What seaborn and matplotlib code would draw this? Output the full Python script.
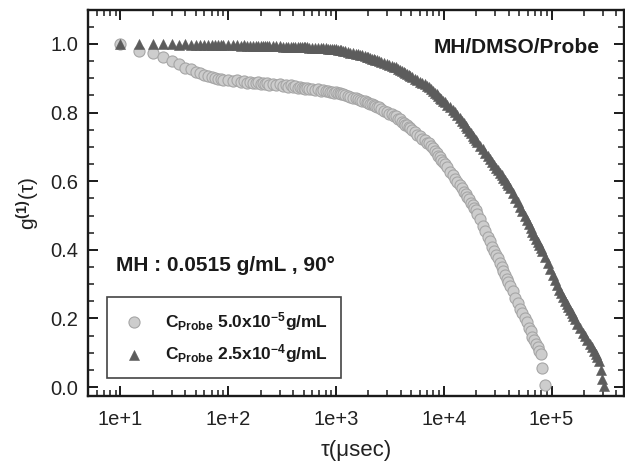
import numpy as np
import pandas as pd
import matplotlib
matplotlib.use("Agg")
import matplotlib.pyplot as plt
import matplotlib.ticker as mticker
import seaborn as sns

# ---------------- data ----------------
tau_us = [10, 15, 20, 25, 30, 35, 40, 45, 50, 55, 60, 65, 70, 75, 80, 85,
          90, 100, 110, 120, 130, 140, 150, 160, 170, 180, 190, 200, 210, 220, 230, 240,
          260, 280, 300, 320, 340, 360, 380, 400, 420, 440, 460, 480, 500, 520, 540, 560,
          600, 640, 680, 720, 760, 800, 840, 880, 920, 960, 1000, 1040, 1080, 1120, 1160, 1200,
          1280, 1360, 1440, 1520, 1600, 1680, 1760, 1840, 1920, 2000, 2080, 2160, 2240, 2320,
          2400, 2480,
          2640, 2800, 2960, 3120, 3280, 3440, 3600, 3760, 3920, 4080, 4240, 4400, 4560, 4720,
          4880, 5040,
          5360, 5680, 6000, 6320, 6640, 6960, 7280, 7600, 7920, 8240, 8560, 8880, 9200, 9520,
          9840, 10160,
          10800, 11440, 12080, 12720, 13360, 14000, 14640, 15280, 15920, 16560, 17200, 17840,
          18480, 19120, 19760, 20400,
          21680, 22960, 24240, 25520, 26800, 28080, 29360, 30640, 31920, 33200, 34480, 35760,
          37040, 38320, 39600, 40880,
          43440, 46000, 48560, 51120, 53680, 56240, 58800, 61360, 63920, 66480, 69040, 71600,
          74160, 76720, 79280, 81840,
          86960, 92080, 97200, 102320, 107440, 112560, 117680, 122800, 127920, 133040, 138160,
          143280, 148400, 153520, 158640, 163760,
          174000, 184240, 194480, 204720, 214960, 225200, 235440, 245680, 255920, 266160,
          276400, 286640, 296880, 307120]

g_low = [1.000, 0.980, 0.973, 0.962, 0.950, 0.941, 0.931, 0.926, 0.917, 0.915, 0.909, 0.907,
         0.903, 0.901, 0.899, 0.898,
         0.896, 0.894, 0.891, 0.894, 0.889, 0.891, 0.886, 0.889, 0.885, 0.887, 0.890, 0.884,
         0.886, 0.882, 0.885, 0.881,
         0.883, 0.879, 0.882, 0.877, 0.880, 0.876, 0.879, 0.874, 0.877, 0.872, 0.875, 0.871,
         0.873, 0.869, 0.872, 0.868,
         0.870, 0.866, 0.868, 0.864, 0.866, 0.862, 0.864, 0.860, 0.861, 0.858, 0.859, 0.856,
         0.856, 0.853, 0.853, 0.850,
         0.848, 0.846, 0.843, 0.842, 0.839, 0.838, 0.835, 0.833, 0.831, 0.829, 0.826, 0.824,
         0.822, 0.819, 0.817, 0.815,
         0.810, 0.805, 0.803, 0.797, 0.796, 0.790, 0.789, 0.782, 0.780, 0.774, 0.771, 0.765,
         0.763, 0.757, 0.755, 0.749,
         0.743, 0.735, 0.731, 0.723, 0.720, 0.712, 0.711, 0.702, 0.697, 0.688, 0.683, 0.674,
         0.670, 0.661, 0.657, 0.649,
         0.641, 0.628, 0.619, 0.607, 0.599, 0.588, 0.580, 0.569, 0.563, 0.553, 0.547, 0.537,
         0.532, 0.522, 0.515, 0.504,
         0.489, 0.469, 0.454, 0.437, 0.425, 0.409, 0.398, 0.384, 0.375, 0.361, 0.351, 0.338,
         0.328, 0.316, 0.307, 0.296,
         0.279, 0.260, 0.246, 0.228, 0.216, 0.200, 0.189, 0.173, 0.162, 0.147, 0.138, 0.125,
         0.118, 0.105, 0.095, 0.055,
         0.005]

g_high = [1.000, 1.000, 1.000, 0.999, 0.999, 0.998, 0.999, 0.998, 0.998, 0.998, 0.997, 0.998,
          0.997, 0.997, 0.997, 0.997,
          0.997, 0.996, 0.996, 0.996, 0.995, 0.996, 0.995, 0.995, 0.995, 0.995, 0.994, 0.994,
          0.994, 0.993, 0.994, 0.993,
          0.993, 0.993, 0.993, 0.992, 0.992, 0.992, 0.992, 0.991, 0.991, 0.991, 0.991, 0.990,
          0.990, 0.990, 0.990, 0.989,
          0.989, 0.989, 0.988, 0.988, 0.987, 0.987, 0.986, 0.986, 0.985, 0.985, 0.984, 0.983,
          0.982, 0.981, 0.980, 0.979,
          0.977, 0.975, 0.974, 0.972, 0.970, 0.969, 0.967, 0.965, 0.963, 0.961, 0.959, 0.957,
          0.955, 0.953, 0.952, 0.950,
          0.947, 0.944, 0.941, 0.938, 0.936, 0.934, 0.932, 0.928, 0.925, 0.922, 0.919, 0.916,
          0.913, 0.910, 0.907, 0.904,
          0.899, 0.895, 0.890, 0.886, 0.882, 0.878, 0.874, 0.869, 0.863, 0.858, 0.853, 0.848,
          0.843, 0.839, 0.835, 0.831,
          0.823, 0.816, 0.808, 0.802, 0.793, 0.785, 0.776, 0.769, 0.761, 0.754, 0.747, 0.740,
          0.733, 0.727, 0.721, 0.715,
          0.704, 0.693, 0.683, 0.673, 0.664, 0.656, 0.647, 0.639, 0.632, 0.624, 0.617, 0.610,
          0.603, 0.596, 0.588, 0.581,
          0.566, 0.552, 0.538, 0.524, 0.512, 0.500, 0.488, 0.476, 0.464, 0.453, 0.443, 0.433,
          0.423, 0.414, 0.405, 0.396,
          0.380, 0.362, 0.344, 0.328, 0.312, 0.297, 0.284, 0.273, 0.262, 0.252, 0.243, 0.233,
          0.224, 0.215, 0.207, 0.199,
          0.184, 0.172, 0.159, 0.148, 0.137, 0.126, 0.116, 0.106, 0.097, 0.088, 0.075, 0.050,
          0.025, 0.003]

label_low = r"C$_{\mathbf{Probe}}$ 5.0x10$^{\mathbf{-5}}$g/mL"
label_high = r"C$_{\mathbf{Probe}}$ 2.5x10$^{\mathbf{-4}}$g/mL"
x_tick_values = [1e1, 1e2, 1e3, 1e4, 1e5]
x_tick_labels = ["1e+1", "1e+2", "1e+3", "1e+4", "1e+5"]
y_tick_values = [0.0, 0.2, 0.4, 0.6, 0.8, 1.0]

# ---------------- style ----------------
sns.set_style("ticks")
plt.rcParams["font.family"] = ["Liberation Sans", "DejaVu Sans"]
plt.rcParams["mathtext.fontset"] = "custom"
plt.rcParams["mathtext.rm"] = "Liberation Sans"
plt.rcParams["mathtext.it"] = "Liberation Sans:italic"
plt.rcParams["mathtext.bf"] = "Liberation Sans:bold"

df_low = pd.DataFrame({"tau": tau_us[:len(g_low)], "g": g_low})
df_high = pd.DataFrame({"tau": tau_us[:len(g_high)], "g": g_high})

fig = plt.figure(figsize=(6.25, 4.72), dpi=100)
ax = fig.add_axes([88 / 625, 76 / 472, 536 / 625, 386 / 472])

sns.scatterplot(data=df_low, x="tau", y="g", ax=ax, marker="o", s=64,
                color="#cdcdcd", edgecolor="#a6a6a6", linewidth=0.8,
                label=label_low, zorder=2)
sns.scatterplot(data=df_high, x="tau", y="g", ax=ax, marker="^", s=52,
                color="#5c5c5c", edgecolor="#5c5c5c", linewidth=0.4,
                label=label_high, zorder=3)

ax.set_xscale("log")
ax.set_xlim(5.0, 4.7e5)
ax.set_ylim(-0.026, 1.099)

ax.xaxis.set_major_locator(mticker.FixedLocator(x_tick_values))
ax.xaxis.set_major_formatter(mticker.FixedFormatter(x_tick_labels))
ax.xaxis.set_minor_locator(mticker.LogLocator(base=10, subs=np.arange(2, 10)))
ax.xaxis.set_minor_formatter(mticker.NullFormatter())
ax.yaxis.set_major_locator(mticker.FixedLocator(y_tick_values))
ax.yaxis.set_major_formatter(mticker.FormatStrFormatter("%.1f"))
ax.yaxis.set_minor_locator(mticker.MultipleLocator(0.05))

ax.tick_params(which="both", direction="in", top=True, right=True,
               colors="#1a1a1a", labelcolor="#222222")
ax.tick_params(which="major", length=7, width=1.4, labelsize=14.5)
ax.tick_params(axis="x", which="major", pad=10)
ax.tick_params(axis="y", which="major", pad=7)
ax.tick_params(which="minor", length=4, width=1.1)
for sp in ax.spines.values():
    sp.set_linewidth(1.7)
    sp.set_color("#1a1a1a")
    sp.set_visible(True)

ax.set_xlabel("τ(μsec)", fontsize=16, color="#222222", labelpad=8)
ax.set_ylabel(r"g$^{\mathbf{(1)}}$(τ)", fontsize=15, color="#222222", labelpad=6)

ax.text(0.955, 0.902, "MH/DMSO/Probe", transform=ax.transAxes, ha="right",
        va="center", fontsize=15, fontweight="bold", color="#1a1a1a")
ax.text(0.052, 0.339, "MH : 0.0515 g/mL , 90°", transform=ax.transAxes,
        ha="left", va="center", fontsize=15, fontweight="bold", color="#1a1a1a")

leg = ax.legend(loc="lower left", bbox_to_anchor=(0.0354, 0.0466),
                borderaxespad=0, frameon=True, fancybox=False,
                prop={"weight": "bold", "size": 12.5},
                handlelength=1.6, handletextpad=1.0, borderpad=0.75,
                labelspacing=0.55, markerscale=1.0)
leg.get_frame().set_edgecolor("#444444")
leg.get_frame().set_linewidth(1.2)
leg.get_frame().set_alpha(1)
for t in leg.get_texts():
    t.set_color("#1a1a1a")

fig.savefig("out.png", dpi=100)
